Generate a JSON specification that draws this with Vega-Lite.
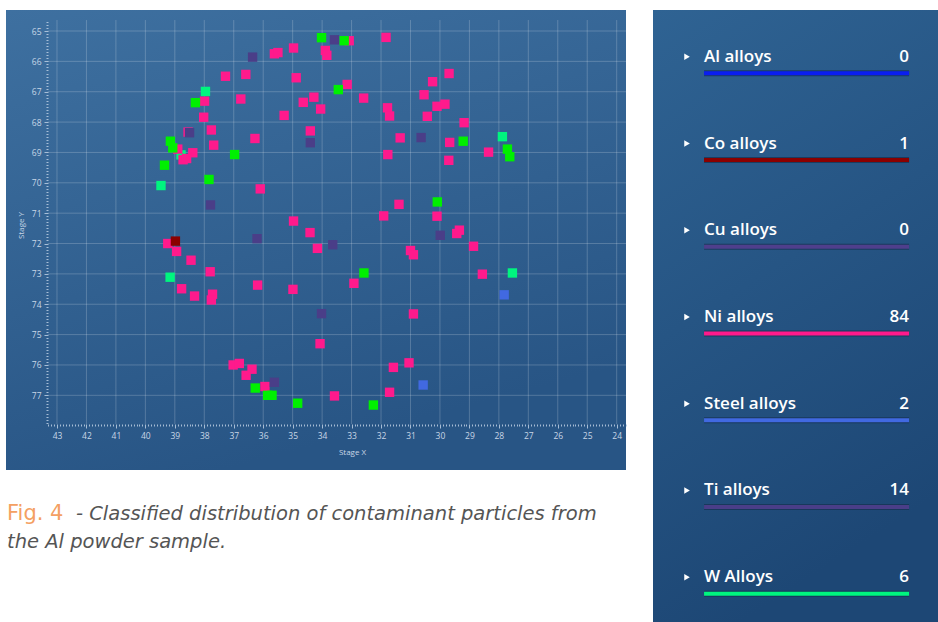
{
  "$schema": "https://vega.github.io/schema/vega-lite/v6.json",
  "background": "white",
  "padding": {"left": 6, "top": 8, "right": 0, "bottom": 0},
  "config": {"view": {"stroke": null}, "font": "Open Sans"},
  "datasets": {
    "particles": [
      {"x": 38.79, "y": 69.08, "type": "W Alloys"},
      {"x": 33.08, "y": 65.32, "type": "Ni alloys"},
      {"x": 35.62, "y": 65.75, "type": "Ni alloys"},
      {"x": 35.5, "y": 65.71, "type": "Ni alloys"},
      {"x": 34.97, "y": 65.56, "type": "Ni alloys"},
      {"x": 33.89, "y": 65.64, "type": "Ni alloys"},
      {"x": 33.84, "y": 65.8, "type": "Ni alloys"},
      {"x": 37.28, "y": 66.49, "type": "Ni alloys"},
      {"x": 36.59, "y": 66.43, "type": "Ni alloys"},
      {"x": 34.88, "y": 66.54, "type": "Ni alloys"},
      {"x": 37.99, "y": 67.31, "type": "Ni alloys"},
      {"x": 36.76, "y": 67.24, "type": "Ni alloys"},
      {"x": 34.64, "y": 67.35, "type": "Ni alloys"},
      {"x": 34.28, "y": 67.18, "type": "Ni alloys"},
      {"x": 34.05, "y": 67.57, "type": "Ni alloys"},
      {"x": 35.29, "y": 67.78, "type": "Ni alloys"},
      {"x": 38.02, "y": 67.84, "type": "Ni alloys"},
      {"x": 38.55, "y": 68.33, "type": "Ni alloys"},
      {"x": 37.76, "y": 68.26, "type": "Ni alloys"},
      {"x": 37.68, "y": 68.76, "type": "Ni alloys"},
      {"x": 36.28, "y": 68.54, "type": "Ni alloys"},
      {"x": 34.4, "y": 68.29, "type": "Ni alloys"},
      {"x": 38.9, "y": 68.89, "type": "Ni alloys"},
      {"x": 38.39, "y": 69.01, "type": "Ni alloys"},
      {"x": 38.72, "y": 69.24, "type": "Ni alloys"},
      {"x": 38.6, "y": 69.2, "type": "Ni alloys"},
      {"x": 36.1, "y": 70.2, "type": "Ni alloys"},
      {"x": 34.97, "y": 71.26, "type": "Ni alloys"},
      {"x": 31.83, "y": 65.21, "type": "Ni alloys"},
      {"x": 29.69, "y": 66.4, "type": "Ni alloys"},
      {"x": 30.25, "y": 66.67, "type": "Ni alloys"},
      {"x": 33.15, "y": 66.76, "type": "Ni alloys"},
      {"x": 32.59, "y": 67.21, "type": "Ni alloys"},
      {"x": 30.54, "y": 67.1, "type": "Ni alloys"},
      {"x": 30.1, "y": 67.48, "type": "Ni alloys"},
      {"x": 29.83, "y": 67.41, "type": "Ni alloys"},
      {"x": 31.78, "y": 67.53, "type": "Ni alloys"},
      {"x": 31.71, "y": 67.8, "type": "Ni alloys"},
      {"x": 30.43, "y": 67.81, "type": "Ni alloys"},
      {"x": 29.18, "y": 68.02, "type": "Ni alloys"},
      {"x": 31.35, "y": 68.52, "type": "Ni alloys"},
      {"x": 29.67, "y": 68.67, "type": "Ni alloys"},
      {"x": 28.35, "y": 68.99, "type": "Ni alloys"},
      {"x": 31.77, "y": 69.07, "type": "Ni alloys"},
      {"x": 29.7, "y": 69.26, "type": "Ni alloys"},
      {"x": 31.39, "y": 70.71, "type": "Ni alloys"},
      {"x": 31.91, "y": 71.09, "type": "Ni alloys"},
      {"x": 30.1, "y": 71.1, "type": "Ni alloys"},
      {"x": 34.41, "y": 71.64, "type": "Ni alloys"},
      {"x": 34.16, "y": 72.16, "type": "Ni alloys"},
      {"x": 39.24, "y": 72.0, "type": "Ni alloys"},
      {"x": 38.94, "y": 72.26, "type": "Ni alloys"},
      {"x": 38.45, "y": 72.55, "type": "Ni alloys"},
      {"x": 37.8, "y": 72.93, "type": "Ni alloys"},
      {"x": 38.77, "y": 73.49, "type": "Ni alloys"},
      {"x": 38.33, "y": 73.73, "type": "Ni alloys"},
      {"x": 37.72, "y": 73.67, "type": "Ni alloys"},
      {"x": 37.76, "y": 73.86, "type": "Ni alloys"},
      {"x": 36.19, "y": 73.37, "type": "Ni alloys"},
      {"x": 34.99, "y": 73.51, "type": "Ni alloys"},
      {"x": 34.07, "y": 75.3, "type": "Ni alloys"},
      {"x": 37.02, "y": 76.0, "type": "Ni alloys"},
      {"x": 36.81, "y": 75.95, "type": "Ni alloys"},
      {"x": 36.38, "y": 76.14, "type": "Ni alloys"},
      {"x": 36.58, "y": 76.34, "type": "Ni alloys"},
      {"x": 35.94, "y": 76.71, "type": "Ni alloys"},
      {"x": 33.58, "y": 77.02, "type": "Ni alloys"},
      {"x": 29.43, "y": 71.67, "type": "Ni alloys"},
      {"x": 29.34, "y": 71.56, "type": "Ni alloys"},
      {"x": 28.86, "y": 72.09, "type": "Ni alloys"},
      {"x": 31.0, "y": 72.23, "type": "Ni alloys"},
      {"x": 30.9, "y": 72.37, "type": "Ni alloys"},
      {"x": 32.92, "y": 73.31, "type": "Ni alloys"},
      {"x": 28.56, "y": 73.01, "type": "Ni alloys"},
      {"x": 30.9, "y": 74.32, "type": "Ni alloys"},
      {"x": 31.58, "y": 76.08, "type": "Ni alloys"},
      {"x": 31.05, "y": 75.93, "type": "Ni alloys"},
      {"x": 31.71, "y": 76.9, "type": "Ni alloys"},
      {"x": 33.58, "y": 65.29, "type": "Ti alloys"},
      {"x": 36.36, "y": 65.86, "type": "Ti alloys"},
      {"x": 38.5, "y": 68.35, "type": "Ti alloys"},
      {"x": 34.4, "y": 68.68, "type": "Ti alloys"},
      {"x": 37.79, "y": 70.73, "type": "Ti alloys"},
      {"x": 30.64, "y": 68.51, "type": "Ti alloys"},
      {"x": 36.21, "y": 71.84, "type": "Ti alloys"},
      {"x": 33.64, "y": 72.04, "type": "Ti alloys"},
      {"x": 34.02, "y": 74.31, "type": "Ti alloys"},
      {"x": 35.62, "y": 76.57, "type": "Ti alloys"},
      {"x": 29.99, "y": 71.73, "type": "Ti alloys"},
      {"x": 38.98, "y": 71.92, "type": "Co alloys"},
      {"x": 27.82, "y": 73.69, "type": "Steel alloys"},
      {"x": 30.57, "y": 76.66, "type": "Steel alloys"},
      {"x": 37.96, "y": 66.99, "type": "W Alloys"},
      {"x": 39.47, "y": 70.09, "type": "W Alloys"},
      {"x": 39.16, "y": 73.11, "type": "W Alloys"},
      {"x": 27.88, "y": 68.48, "type": "W Alloys"},
      {"x": 27.54, "y": 72.97, "type": "W Alloys"},
      {"x": 34.02, "y": 65.22, "type": "Other"},
      {"x": 33.25, "y": 65.32, "type": "Other"},
      {"x": 38.3, "y": 67.36, "type": "Other"},
      {"x": 33.45, "y": 66.93, "type": "Other"},
      {"x": 39.15, "y": 68.63, "type": "Other"},
      {"x": 39.07, "y": 68.85, "type": "Other"},
      {"x": 36.97, "y": 69.07, "type": "Other"},
      {"x": 39.35, "y": 69.42, "type": "Other"},
      {"x": 37.84, "y": 69.89, "type": "Other"},
      {"x": 29.21, "y": 68.63, "type": "Other"},
      {"x": 27.71, "y": 68.89, "type": "Other"},
      {"x": 27.63, "y": 69.14, "type": "Other"},
      {"x": 30.09, "y": 70.63, "type": "Other"},
      {"x": 32.58, "y": 72.97, "type": "Other"},
      {"x": 36.27, "y": 76.76, "type": "Other"},
      {"x": 35.85, "y": 77.0, "type": "Other"},
      {"x": 35.7, "y": 77.0, "type": "Other"},
      {"x": 34.83, "y": 77.26, "type": "Other"},
      {"x": 32.26, "y": 77.32, "type": "Other"}
    ],
    "gridx": [
      {"gx": 24}, {"gx": 25}, {"gx": 26}, {"gx": 27}, {"gx": 28}, {"gx": 29}, {"gx": 30},
      {"gx": 31}, {"gx": 32}, {"gx": 33}, {"gx": 34}, {"gx": 35}, {"gx": 36}, {"gx": 37},
      {"gx": 38}, {"gx": 39}, {"gx": 40}, {"gx": 41}, {"gx": 42}, {"gx": 43}
    ],
    "gridy": [
      {"gy": 65}, {"gy": 66}, {"gy": 67}, {"gy": 68}, {"gy": 69}, {"gy": 70}, {"gy": 71},
      {"gy": 72}, {"gy": 73}, {"gy": 74}, {"gy": 75}, {"gy": 76}, {"gy": 77}
    ],
    "legend": [
      {"name": "Al alloys", "count": 0},
      {"name": "Co alloys", "count": 1},
      {"name": "Cu alloys", "count": 0},
      {"name": "Ni alloys", "count": 84},
      {"name": "Steel alloys", "count": 2},
      {"name": "Ti alloys", "count": 14},
      {"name": "W Alloys", "count": 6}
    ],
    "caption": [
      {"part": "fig", "text": "Fig. 4"},
      {"part": "line1", "text": "- Classified distribution of contaminant particles from"},
      {"part": "line2", "text": "the Al powder sample."}
    ]
  },
  "resolve": {"scale": {"color": "independent"}},
  "spacing": 26,
  "hconcat": [
    {
      "spacing": 0,
      "vconcat": [
        {
          "width": 620,
          "height": 460,
          "view": {
            "stroke": null,
            "fill": {
              "gradient": "linear", "x1": 0, "y1": 0, "x2": 0.35, "y2": 1,
              "stops": [{"offset": 0, "color": "#3e70a0"}, {"offset": 1, "color": "#285585"}]
            }
          },
          "layer": [
            {
              "data": {"name": "gridx"},
              "mark": {"type": "rule", "color": "#ffffff", "opacity": 0.2, "strokeWidth": 1},
              "encoding": {
                "x": {"field": "gx", "type": "quantitative",
                      "scale": {"domain": [23.684, 44.731], "reverse": true, "nice": false, "zero": false}},
                "y": {"datum": 64.638, "type": "quantitative",
                      "scale": {"domain": [64.308, 79.46], "reverse": true, "nice": false, "zero": false}},
                "y2": {"datum": 77.945}
              }
            },
            {
              "data": {"name": "gridy"},
              "mark": {"type": "rule", "color": "#ffffff", "opacity": 0.2, "strokeWidth": 1},
              "encoding": {
                "y": {"field": "gy", "type": "quantitative",
                      "scale": {"domain": [64.308, 79.46], "reverse": true, "nice": false, "zero": false}},
                "x": {"datum": 43.316, "type": "quantitative",
                      "scale": {"domain": [23.684, 44.731], "reverse": true, "nice": false, "zero": false}},
                "x2": {"datum": 23.684}
              }
            },
            {
              "data": {"name": "particles"},
              "mark": {"type": "square", "size": 88, "opacity": 1},
              "encoding": {
                "x": {
                  "field": "x", "type": "quantitative",
                  "scale": {"domain": [23.684, 44.731], "reverse": true, "nice": false, "zero": false},
                  "axis": {
                    "orient": "bottom", "offset": -46, "domain": false, "grid": false,
                    "tickCount": 200, "labelOverlap": false, "labelFlush": false,
                    "labelExpr": "abs(datum.value - round(datum.value)) < 0.01 && datum.value > 23.9 && datum.value < 43.1 ? format(datum.value, 'd') : ''",
                    "tickSize": {"condition": {"test": "abs(datum.value - round(datum.value)) < 0.01", "value": 4}, "value": 2},
                    "tickOpacity": {"condition": {"test": "datum.value > 43.32", "value": 0}, "value": 0.9},
                    "tickColor": "#b4c8de", "tickWidth": 1,
                    "labelColor": "#c8d6e6", "labelFontSize": 8.5, "labelPadding": 3, "labelFont": "Open Sans",
                    "title": "Stage X", "titleFontSize": 8, "titleColor": "#c8d6e6", "titleFontWeight": "normal",
                    "titleFont": "Open Sans", "titleX": 346, "titleY": 28, "titleBaseline": "middle", "titleAlign": "center"
                  }
                },
                "y": {
                  "field": "y", "type": "quantitative",
                  "scale": {"domain": [64.308, 79.46], "reverse": true, "nice": false, "zero": false},
                  "axis": {
                    "orient": "left", "offset": -42, "domain": false, "grid": false,
                    "tickCount": 140, "labelOverlap": false, "labelFlush": false,
                    "labelExpr": "abs(datum.value - round(datum.value)) < 0.01 && datum.value > 64.9 && datum.value < 77.1 ? format(datum.value, 'd') : ''",
                    "tickSize": {"condition": {"test": "abs(datum.value - round(datum.value)) < 0.01", "value": 4}, "value": 2},
                    "tickOpacity": {"condition": {"test": "datum.value < 64.63 || datum.value > 77.95", "value": 0}, "value": 0.9},
                    "tickColor": "#b4c8de", "tickWidth": 1,
                    "labelColor": "#c8d6e6", "labelFontSize": 8.5, "labelPadding": 3, "labelFont": "Open Sans",
                    "title": "Stage Y", "titleFontSize": 8, "titleColor": "#c8d6e6", "titleFontWeight": "normal",
                    "titleFont": "Open Sans", "titleX": -27, "titleY": 215, "titleBaseline": "middle", "titleAlign": "center"
                  }
                },
                "color": {
                  "field": "type", "type": "nominal", "legend": null,
                  "scale": {
                    "domain": ["Al alloys", "Co alloys", "Cu alloys", "Ni alloys", "Steel alloys", "Ti alloys", "W Alloys", "Other"],
                    "range": ["#0a1ef0", "#8b0000", "#4f3f8c", "#ff1a8c", "#4169e1", "#4a3e88", "#00f57f", "#00f000"]
                  }
                }
              }
            }
          ]
        },
        {
          "width": 620,
          "height": 154,
          "data": {"name": "caption"},
          "layer": [
            {
              "transform": [{"filter": "datum.part === 'fig'"}],
              "mark": {"type": "text", "align": "left", "baseline": "alphabetic", "font": "DejaVu Sans", "fontSize": 21, "fontWeight": "normal", "color": "#f4a062"},
              "encoding": {
                "text": {"field": "text"},
                "x": {"datum": 1, "type": "quantitative", "axis": null, "scale": {"domain": [0, 620], "nice": false, "zero": false}},
                "y": {"datum": 47, "type": "quantitative", "axis": null, "scale": {"domain": [0, 154], "reverse": true, "nice": false, "zero": false}}
              }
            },
            {
              "transform": [{"filter": "datum.part === 'line1'"}],
              "mark": {"type": "text", "align": "left", "baseline": "alphabetic", "font": "DejaVu Sans", "fontSize": 19.5, "fontStyle": "italic", "fontWeight": 200, "color": "#555555"},
              "encoding": {
                "text": {"field": "text"},
                "x": {"datum": 70, "type": "quantitative", "axis": null, "scale": {"domain": [0, 620], "nice": false, "zero": false}},
                "y": {"datum": 47, "type": "quantitative", "axis": null, "scale": {"domain": [0, 154], "reverse": true, "nice": false, "zero": false}}
              }
            },
            {
              "transform": [{"filter": "datum.part === 'line2'"}],
              "mark": {"type": "text", "align": "left", "baseline": "alphabetic", "font": "DejaVu Sans", "fontSize": 19.5, "fontStyle": "italic", "fontWeight": 200, "color": "#555555"},
              "encoding": {
                "text": {"field": "text"},
                "x": {"datum": 1, "type": "quantitative", "axis": null, "scale": {"domain": [0, 620], "nice": false, "zero": false}},
                "y": {"datum": 75, "type": "quantitative", "axis": null, "scale": {"domain": [0, 154], "reverse": true, "nice": false, "zero": false}}
              }
            }
          ]
        }
      ]
    },
    {
      "width": 286,
      "height": 614,
      "data": {"name": "legend"},
      "view": {
        "stroke": null,
        "fill": {
          "gradient": "linear", "x1": 0, "y1": 0, "x2": 0.3, "y2": 1,
          "stops": [{"offset": 0, "color": "#2f6393"}, {"offset": 1, "color": "#1d4775"}]
        }
      },
      "encoding": {
        "y": {"field": "name", "type": "nominal", "sort": null, "axis": null,
              "scale": {"type": "point", "padding": 0.54}}
      },
      "layer": [
        {
          "mark": {"type": "point", "shape": "triangle-right", "filled": true, "color": "#ffffff", "size": 42, "opacity": 1},
          "encoding": {
            "x": {"datum": -0.083, "type": "quantitative", "axis": null, "scale": {"domain": [-0.249, 1.146], "nice": false, "zero": false}}
          }
        },
        {
          "mark": {"type": "text", "align": "left", "baseline": "middle", "font": "Open Sans", "fontSize": 17, "fontWeight": 600, "color": "#ffffff"},
          "encoding": {
            "text": {"field": "name"},
            "x": {"datum": 0, "type": "quantitative", "axis": null, "scale": {"domain": [-0.249, 1.146], "nice": false, "zero": false}}
          }
        },
        {
          "mark": {"type": "text", "align": "right", "baseline": "middle", "font": "Open Sans", "fontSize": 17, "fontWeight": 600, "color": "#ffffff"},
          "encoding": {
            "text": {"field": "count"},
            "x": {"datum": 1, "type": "quantitative", "axis": null, "scale": {"domain": [-0.249, 1.146], "nice": false, "zero": false}}
          }
        },
        {
          "mark": {"type": "rule", "strokeWidth": 6, "color": "#16304f", "opacity": 0.7, "yOffset": 16.5},
          "encoding": {
            "x": {"datum": 0, "type": "quantitative", "axis": null, "scale": {"domain": [-0.249, 1.146], "nice": false, "zero": false}},
            "x2": {"datum": 1}
          }
        },
        {
          "mark": {"type": "rule", "strokeWidth": 4, "yOffset": 16.5},
          "encoding": {
            "x": {"datum": 0, "type": "quantitative", "axis": null, "scale": {"domain": [-0.249, 1.146], "nice": false, "zero": false}},
            "x2": {"datum": 1},
            "color": {
              "field": "name", "type": "nominal", "legend": null,
              "scale": {
                "domain": ["Al alloys", "Co alloys", "Cu alloys", "Ni alloys", "Steel alloys", "Ti alloys", "W Alloys", "Other"],
                "range": ["#0a1ef0", "#8b0000", "#4f3f8c", "#ff1a8c", "#4169e1", "#4a3e88", "#00f57f", "#00f000"]
              }
            }
          }
        }
      ]
    }
  ]
}
